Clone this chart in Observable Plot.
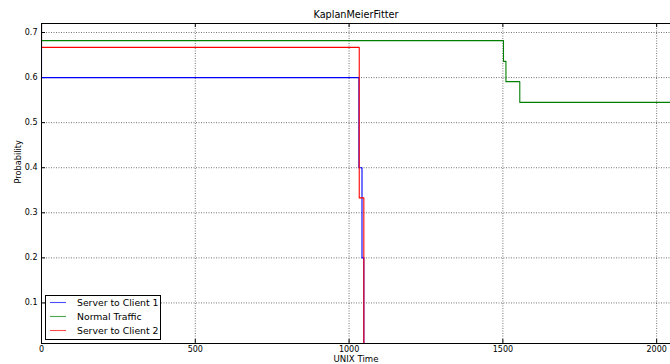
<!DOCTYPE html>
<html><head><meta charset="utf-8">
<script src="https://cdn.jsdelivr.net/npm/d3@7"></script>
<script src="https://cdn.jsdelivr.net/npm/@observablehq/plot@0.6"></script>
<style>body{margin:0;background:#fff} #chart{width:670px;height:364px;overflow:hidden}</style>
</head><body><div id="chart"></div>
<script>
const title = "KaplanMeierFitter";
const xLabel = "UNIX Time";
const yLabel = "Probability";
const seriesNames = ["Server to Client 1", "Normal Traffic", "Server to Client 2"];
const seriesColors = ["#0000ff", "#008000", "#ff0000"];
const s1Times = [0, 0, 1032, 1042, 1048];
const s1Surv = [1.0, 0.6, 0.4, 0.2, 0.0];
const ntTimes = [0, 0, 1502, 1510, 1555, 2200];
const ntSurv = [1.0, 0.682, 0.636, 0.591, 0.545, 0.545];
const s2Times = [0, 0, 1033, 1048];
const s2Surv = [1.0, 0.667, 0.333, 0.0];
const xTicks = [0, 500, 1000, 1500, 2000];
const yTicks = [0.1, 0.2, 0.3, 0.4, 0.5, 0.6, 0.7];
const xDomain = [0, 2045];
const yDomain = [0.01, 0.72];

const seriesTimes = [s1Times, ntTimes, s2Times];
const seriesSurv = [s1Surv, ntSurv, s2Surv];
const rows = seriesNames.flatMap((name, i) =>
  seriesTimes[i].map((t, j) => ({series: name, t, s: seriesSurv[i][j]})));

const font = "DejaVu Sans";
const W = 670, H = 364, mL = 41, mT = 23, mR = 0, mB = 21;
const plotW = W - mL - mR, plotH = H - mT - mB;

const chart = Plot.plot({
  width: W, height: H,
  marginLeft: mL, marginTop: mT, marginRight: mR, marginBottom: mB,
  style: {fontFamily: font, background: "#fff", color: "#000"},
  x: {domain: xDomain, ticks: xTicks, label: null},
  y: {domain: yDomain, ticks: yTicks, label: null},
  color: {domain: seriesNames, range: seriesColors},
  marks: [
    Plot.gridX(xTicks, {stroke: "#000", strokeOpacity: 0.55, strokeDasharray: "1,1.5", strokeWidth: 1}),
    Plot.gridY(yTicks, {stroke: "#000", strokeOpacity: 0.55, strokeDasharray: "1,1.5", strokeWidth: 1}),
    Plot.tickX(xTicks, {x: d => d, insetTop: plotH - 4, stroke: "#000"}),
    Plot.tickX(xTicks, {x: d => d, insetBottom: plotH - 4, stroke: "#000"}),
    Plot.tickY(yTicks, {y: d => d, insetRight: plotW - 4, stroke: "#000"}),
    Plot.axisX(xTicks, {tickSize: 0, tickPadding: 3, fontSize: 8, label: null, tickFormat: d => String(d)}),
    Plot.axisY(yTicks, {tickSize: 0, tickPadding: 4, fontSize: 8, label: null, tickFormat: d => d.toFixed(1)}),
    Plot.line(rows, {x: "t", y: "s", z: "series", stroke: "series", curve: "step-after", strokeWidth: 1.1, clip: true}),
    Plot.frame({stroke: "#000", strokeWidth: 1}),
    Plot.text([title], {text: d => d, frameAnchor: "top", dy: -6, fontSize: 9.7, lineAnchor: "bottom"}),
    Plot.text([xLabel], {text: d => d, frameAnchor: "bottom", dy: 16, fontSize: 8.6, lineAnchor: "middle"}),
    Plot.text([yLabel], {text: d => d, frameAnchor: "left", dx: -23, rotate: -90, fontSize: 8.2})
  ]
});

// legend inside the axes (lower left)
const svg = d3.select(chart);
const lg = svg.append("g").attr("font-family", font).attr("font-size", 9.3).attr("text-anchor", "start");
lg.append("rect").attr("x", 45.5).attr("y", 295.5).attr("width", 115).attr("height", 44)
  .attr("fill", "#fff").attr("stroke", "#000").attr("stroke-width", 1);
seriesNames.forEach((name, i) => {
  const y = 302.5 + i * 14;
  lg.append("line").attr("x1", 50).attr("x2", 66).attr("y1", y).attr("y2", y)
    .attr("stroke", seriesColors[i]).attr("stroke-width", 1.1).attr("stroke-opacity", 0.7);
  lg.append("text").attr("x", 77).attr("y", y).attr("dy", "0.35em")
    .attr("text-anchor", "start").attr("fill", "#000").text(name);
});

document.getElementById("chart").appendChild(chart);
</script>
</body></html>
